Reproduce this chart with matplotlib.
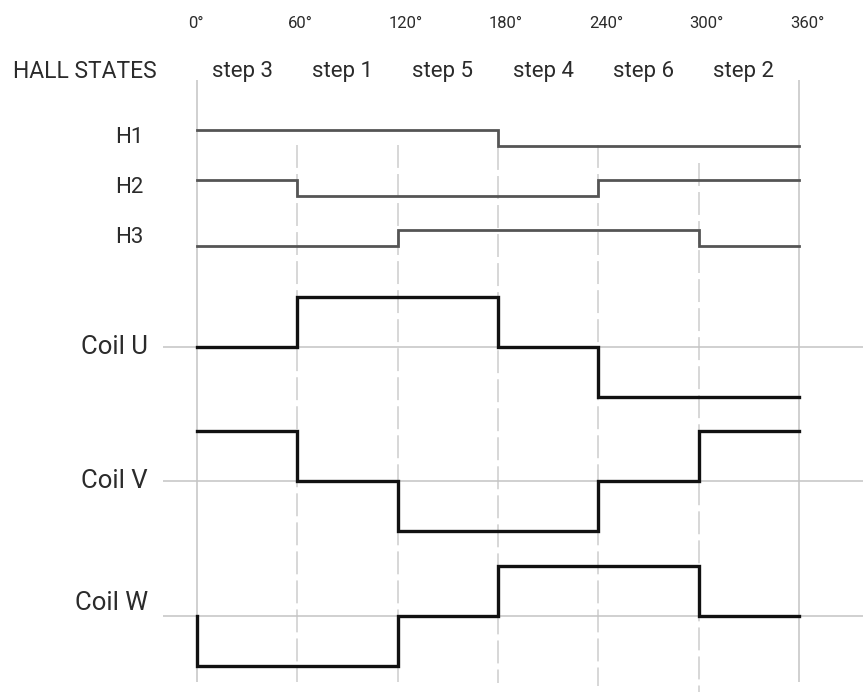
import matplotlib
matplotlib.use('Agg')
import matplotlib.pyplot as plt

# ---------------- data ----------------
angles = [0, 60, 120, 180, 240, 300, 360]
degree_labels = ['0°', '60°', '120°', '180°', '240°', '300°', '360°']
step_labels = ['step 3', 'step 1', 'step 5', 'step 4', 'step 6', 'step 2']

hall_names = ['H1', 'H2', 'H3']
H1 = [1, 1, 1, 0, 0, 0]
H2 = [1, 0, 0, 0, 1, 1]
H3 = [0, 0, 1, 1, 1, 0]

coil_names = ['Coil U', 'Coil V', 'Coil W']
coil_U = [0, 1, 1, 0, -1, -1]
coil_V = [1, 0, -1, -1, 0, 1]
coil_W = [-1, -1, 0, 1, 1, 0]
coil_lead_in = [None, None, 0]   # W starts from its baseline at 0°

# ---------------- layout (pixel-like units from top) ----------------
W, H = 863, 696
px_per_deg = (799 - 197) / 360.0
x_left = -197 / px_per_deg
x_right = (W - 197) / px_per_deg

hall_low = [146, 196, 246]
hall_amp = 16.5
coil_base = [347, 481, 616]
coil_amp = 50
coil_label_y = [347, 481, 603]

font = ['Roboto', 'DejaVu Sans']
txt_color = '#2b2b2b'
grid_color = '#c4c4c4'
dash_color = '#cdcdcd'

fig = plt.figure(figsize=(W / 100, H / 100), dpi=100)
ax = fig.add_axes([0, 0, 1, 1])
ax.set_xlim(x_left, x_right)
ax.set_ylim(H, 0)
ax.axis('off')

def px2deg(px):
    return (px - 197) / px_per_deg

# vertical guide lines
ax.vlines([angles[0], angles[-1]], 80, 682, color=grid_color, lw=1.1, zorder=1)
dash_tops = [145, 145, 147, 145, 163]
dash_bots = [682, 682, 683, 686, 692]
for a, t, b in zip(angles[1:-1], dash_tops, dash_bots):
    ax.vlines(a, t, b, color=dash_color, lw=1.1, linestyles=(0, (15, 4)), zorder=1)

# coil baselines
for yb in coil_base:
    ax.hlines(yb, px2deg(163), x_right, color=grid_color, lw=1.1, zorder=1)

# hall signals
for name, sig, low in zip(hall_names, [H1, H2, H3], hall_low):
    ys = [low - v * hall_amp for v in sig + [sig[-1]]]
    ax.step(angles, ys, where='post', color='#555555', lw=2.0, zorder=3,
            solid_joinstyle='miter')
    ax.text(px2deg(143), low - hall_amp / 2, name, ha='right', va='center',
            fontsize=16, family=font, color=txt_color)

# coil signals
for name, sig, base, lead, ly in zip(coil_names, [coil_U, coil_V, coil_W],
                                     coil_base, coil_lead_in, coil_label_y):
    xs = list(angles)
    vals = sig + [sig[-1]]
    if lead is not None:
        xs = [angles[0]] + xs
        vals = [lead] + vals
    ys = [base - v * coil_amp for v in vals]
    ax.step(xs, ys, where='post', color='#111111', lw=2.4, zorder=3,
            solid_joinstyle='miter')
    ax.text(px2deg(148), ly, name, ha='right', va='center',
            fontsize=18.5, family=font, color=txt_color)

# degree labels
for a, lab in zip(angles, degree_labels):
    ax.text(a - 5.5, 23, lab, ha='left', va='center', fontsize=12,
            family=font, color=txt_color)

# step labels
for i, lab in enumerate(step_labels):
    mid = (angles[i] + angles[i + 1]) / 2 - 3
    ax.text(mid, 72, lab, ha='center', va='center', fontsize=16,
            family=font, color=txt_color)

ax.text(px2deg(13), 72, 'HALL STATES', ha='left', va='center', fontsize=16.5,
        family=font, color=txt_color)

fig.savefig('out.png', dpi=100, facecolor='white')
